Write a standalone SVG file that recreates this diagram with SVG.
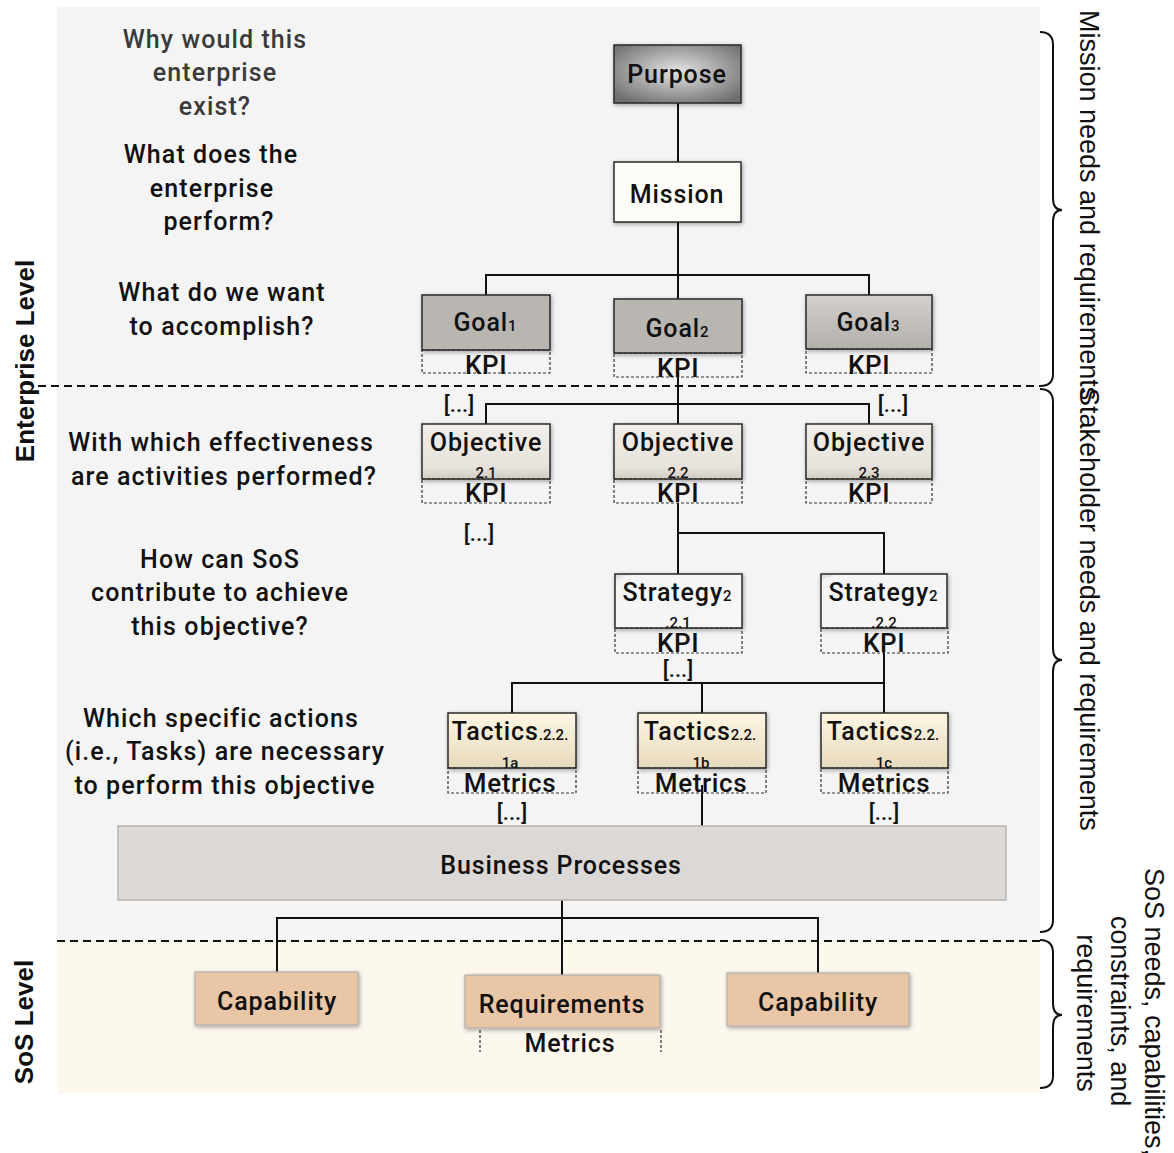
<svg xmlns="http://www.w3.org/2000/svg" width="1174" height="1153" viewBox="0 0 1174 1153">
  <defs>
    <radialGradient id="gPurpose" cx="50%" cy="45%" r="65%">
      <stop offset="0" stop-color="#e4e4e4"/>
      <stop offset="1" stop-color="#6e6e6e"/>
    </radialGradient>
    <linearGradient id="gGoal3" x1="0" y1="0" x2="0" y2="1">
      <stop offset="0" stop-color="#d3d0cd"/>
      <stop offset="1" stop-color="#b3afab"/>
    </linearGradient>
    <linearGradient id="gObj" x1="0" y1="0" x2="0" y2="1">
      <stop offset="0" stop-color="#f1efea"/>
      <stop offset="0.8" stop-color="#e6e2db"/>
      <stop offset="1" stop-color="#cfcac2"/>
    </linearGradient>
    <linearGradient id="gStrat" x1="0" y1="0" x2="1" y2="1">
      <stop offset="0" stop-color="#cfcfcf"/>
      <stop offset="0.08" stop-color="#f4f4f4"/>
      <stop offset="1" stop-color="#f7f7f7"/>
    </linearGradient>
    <linearGradient id="gTac" x1="0" y1="0" x2="0" y2="1">
      <stop offset="0" stop-color="#fcf6e4"/>
      <stop offset="1" stop-color="#e8dabc"/>
    </linearGradient>
    <filter id="shadow" x="-10%" y="-15%" width="125%" height="140%">
      <feDropShadow dx="1" dy="1.5" stdDeviation="2" flood-color="#000" flood-opacity="0.35"/>
    </filter>
    <style>
      .q { font-family: Roboto, "Noto Sans", sans-serif; font-size: 25px; font-weight: 500; letter-spacing: 1.1px; fill: #111; text-anchor: middle; }
      .q1 { fill: #3a3a3a; }
      .lbl { font-family: Roboto, "Noto Sans", sans-serif; font-size: 25px; font-weight: 500; letter-spacing: 0.9px; fill: #111; text-anchor: middle; }
      .sm { font-size: 15px; letter-spacing: 0; }
      .kpi { font-family: Roboto, "Noto Sans", sans-serif; font-size: 26px; font-weight: 500; letter-spacing: 0.6px; fill: #111; text-anchor: middle; }
      .dots { font-family: Roboto, "Noto Sans", sans-serif; font-size: 22px; font-weight: 500; fill: #111; text-anchor: middle; }
      .box { stroke: #2a2a2a; stroke-width: 1.5; filter: url(#shadow); }
      .soft { stroke: #b5b0aa; stroke-width: 1.2; filter: url(#shadow); }
      .dash { fill: none; stroke: #333; stroke-width: 1.2; stroke-dasharray: 3 2; }
      .wire { stroke: #111; stroke-width: 2; fill: none; }
      .sep { stroke: #111; stroke-width: 2; stroke-dasharray: 8 5; fill: none; }
      .brace { stroke: #111; stroke-width: 2; fill: none; }
      .side { font-family: "Liberation Sans", Arial, sans-serif; font-size: 27px; fill: #111; }
      .lvl { font-family: "Liberation Sans", Arial, sans-serif; font-size: 26px; font-weight: bold; fill: #111; text-anchor: middle; }
    </style>
  </defs>

  <!-- level backgrounds -->
  <rect x="57" y="7" width="983" height="934" fill="#f4f4f4"/>
  <rect x="57" y="941" width="983" height="152" fill="#fdf8ee"/>
  <line class="sep" x1="38" y1="386" x2="1040" y2="386"/>
  <line class="sep" x1="57" y1="941" x2="1040" y2="941"/>

  <!-- level labels -->
  <text class="lvl" transform="translate(34,361) rotate(-90)">Enterprise Level</text>
  <text class="lvl" transform="translate(33,1022) rotate(-90)">SoS Level</text>

  <!-- guiding questions -->
  <g id="questions">
    <text class="q q1" x="215" y="48">Why would this</text>
    <text class="q q1" x="215" y="81">enterprise</text>
    <text class="q q1" x="215" y="115">exist?</text>
    <text class="q" x="211" y="163">What does the</text>
    <text class="q" x="212" y="197">enterprise</text>
    <text class="q" x="219" y="230">perform?</text>
    <text class="q" x="222" y="301">What do we want</text>
    <text class="q" x="222" y="335">to accomplish?</text>
    <text class="q" x="221" y="451">With which effectiveness</text>
    <text class="q" x="224" y="485">are activities performed?</text>
    <text class="q" x="220" y="568">How can SoS</text>
    <text class="q" x="220" y="601">contribute to achieve</text>
    <text class="q" x="220" y="635">this objective?</text>
    <text class="q" x="221" y="727">Which specific actions</text>
    <text class="q" x="225" y="760">(i.e., Tasks) are necessary</text>
    <text class="q" x="225" y="794">to perform this objective</text>
  </g>

  <!-- connectors -->
  <g id="connectors">
    <path class="wire" d="M678 103V162M678 222V275M486 295V275H869V295M678 275V299"/>
    <path class="wire" d="M678 372V404M486 424V404H869V424M678 404V424"/>
    <path class="wire" d="M678 503V574M678 533H884V574"/>
    <path class="wire" d="M884 645V683M512 713V683H884V713M702 683V713"/>
    <path class="wire" d="M702 785V826"/>
    <path class="wire" d="M562 900V975M277 972V918H818V973"/>
  </g>

  <!-- strategic nodes -->
  <g id="purpose">
    <rect class="box" x="614" y="45" width="127" height="58" fill="url(#gPurpose)"/>
    <text class="lbl" x="677" y="83">Purpose</text>
  </g>
  <g id="mission">
    <rect class="box" x="614" y="162" width="127" height="60" fill="#fdfcf6"/>
    <text class="lbl" x="677" y="203">Mission</text>
  </g>

  <g id="goal1">
    <rect class="box" x="422" y="295" width="128" height="55" fill="#b9b5b1"/>
    <rect class="dash" x="422" y="350" width="128" height="23"/>
    <text class="lbl" x="485" y="331">Goal<tspan class="sm">1</tspan></text>
    <text class="kpi" x="486" y="374">KPI</text>
  </g>
  <g id="goal2">
    <rect class="box" x="614" y="299" width="128" height="54" fill="#b9b5b1"/>
    <rect class="dash" x="614" y="353" width="128" height="24"/>
    <text class="lbl" x="677" y="337">Goal<tspan class="sm">2</tspan></text>
    <text class="kpi" x="678" y="377">KPI</text>
  </g>
  <g id="goal3">
    <rect class="box" x="806" y="295" width="126" height="54" fill="url(#gGoal3)"/>
    <rect class="dash" x="806" y="349" width="126" height="24"/>
    <text class="lbl" x="868" y="331">Goal<tspan class="sm">3</tspan></text>
    <text class="kpi" x="869" y="374">KPI</text>
  </g>

  <text class="dots" x="459" y="412">[...]</text>
  <text class="dots" x="893" y="412">[...]</text>

  <g id="objective21">
    <rect class="box" x="422" y="424" width="128" height="55" fill="url(#gObj)"/>
    <rect class="dash" x="422" y="479" width="128" height="24"/>
    <text class="lbl" x="486" y="451">Objective</text>
    <text class="lbl sm" x="486" y="478">2.1</text>
    <text class="kpi" x="486" y="502">KPI</text>
  </g>
  <g id="objective22">
    <rect class="box" x="614" y="424" width="128" height="55" fill="url(#gObj)"/>
    <rect class="dash" x="614" y="479" width="128" height="24"/>
    <text class="lbl" x="678" y="451">Objective</text>
    <text class="lbl sm" x="678" y="478">2.2</text>
    <text class="kpi" x="678" y="502">KPI</text>
  </g>
  <g id="objective23">
    <rect class="box" x="806" y="424" width="126" height="55" fill="url(#gObj)"/>
    <rect class="dash" x="806" y="479" width="126" height="24"/>
    <text class="lbl" x="869" y="451">Objective</text>
    <text class="lbl sm" x="869" y="478">2.3</text>
    <text class="kpi" x="869" y="502">KPI</text>
  </g>

  <text class="dots" x="479" y="541">[...]</text>

  <g id="strategy221">
    <rect class="box" x="615" y="574" width="127" height="54" fill="url(#gStrat)"/>
    <rect class="dash" x="615" y="628" width="127" height="25"/>
    <text class="lbl" x="677" y="601">Strategy<tspan class="sm">2</tspan></text>
    <text class="lbl sm" x="678" y="628">.2.1</text>
    <text class="kpi" x="678" y="652">KPI</text>
  </g>
  <g id="strategy222">
    <rect class="box" x="821" y="574" width="126" height="54" fill="url(#gStrat)"/>
    <rect class="dash" x="821" y="628" width="127" height="25"/>
    <text class="lbl" x="883" y="601">Strategy<tspan class="sm">2</tspan></text>
    <text class="lbl sm" x="884" y="628">.2.2</text>
    <text class="kpi" x="884" y="652">KPI</text>
  </g>

  <text class="dots" x="678" y="677">[...]</text>

  <g id="tactics1a">
    <rect class="box" x="448" y="713" width="128" height="55" fill="url(#gTac)"/>
    <rect class="dash" x="448" y="768" width="128" height="25"/>
    <text class="lbl" x="510" y="740">Tactics<tspan class="sm">.2.2.</tspan></text>
    <text class="lbl sm" x="510" y="768">1a</text>
    <text class="kpi" x="510" y="792">Metrics</text>
  </g>
  <g id="tactics1b">
    <rect class="box" x="638" y="713" width="128" height="55" fill="url(#gTac)"/>
    <rect class="dash" x="638" y="768" width="128" height="25"/>
    <text class="lbl" x="700" y="740">Tactics<tspan class="sm">2.2.</tspan></text>
    <text class="lbl sm" x="701" y="768">1b</text>
    <text class="kpi" x="701" y="792">Metrics</text>
  </g>
  <g id="tactics1c">
    <rect class="box" x="821" y="713" width="127" height="55" fill="url(#gTac)"/>
    <rect class="dash" x="821" y="768" width="127" height="25"/>
    <text class="lbl" x="883" y="740">Tactics<tspan class="sm">2.2.</tspan></text>
    <text class="lbl sm" x="884" y="768">1c</text>
    <text class="kpi" x="884" y="792">Metrics</text>
  </g>

  <text class="dots" x="512" y="820">[...]</text>
  <text class="dots" x="884" y="820">[...]</text>

  <g id="business-processes">
    <rect x="118" y="826" width="888" height="74" fill="#dcd8d6" stroke="#b8b4b0" stroke-width="1.5"/>
    <text class="lbl" x="561" y="874">Business Processes</text>
  </g>

  <!-- SoS level nodes -->
  <g id="capability1">
    <rect class="soft" x="195" y="972" width="163" height="53" fill="#e8c6a6"/>
    <text class="lbl" x="277" y="1010">Capability</text>
  </g>
  <g id="requirements">
    <rect class="soft" x="465" y="975" width="195" height="53" fill="#e8c6a6"/>
    <path class="dash" d="M480 1030V1052M661 1030V1052" stroke="#999"/>
    <text class="lbl" x="562" y="1013">Requirements</text>
    <text class="lbl" x="570" y="1052">Metrics</text>
  </g>
  <g id="capability2">
    <rect class="soft" x="727" y="973" width="182" height="53" fill="#e8c6a6"/>
    <text class="lbl" x="818" y="1011">Capability</text>
  </g>

  <!-- right-hand braces and captions -->
  <g id="braces">
    <path class="brace" d="M1040 32Q1053 32 1053 45V198Q1053 210 1062 210Q1053 210 1053 222V374Q1053 386 1040 386"/>
    <path class="brace" d="M1040 389Q1053 389 1053 402V648Q1053 660 1062 660Q1053 660 1053 672V920Q1053 932 1040 932"/>
    <path class="brace" d="M1040 940Q1053 940 1053 953V1003Q1053 1015 1062 1015Q1053 1015 1053 1027V1076Q1053 1088 1040 1088"/>
  </g>
  <text class="side" transform="translate(1080,10) rotate(90)">Mission needs and requirements</text>
  <text class="side" transform="translate(1080,388) rotate(90)">Stakeholder needs and requirements</text>
  <g class="side" text-anchor="middle">
    <text transform="translate(1145,1012) rotate(90)">SoS needs, capabilities,</text>
    <text transform="translate(1111,1011) rotate(90)">constraints, and</text>
    <text transform="translate(1077,1013) rotate(90)">requirements</text>
  </g>
</svg>
